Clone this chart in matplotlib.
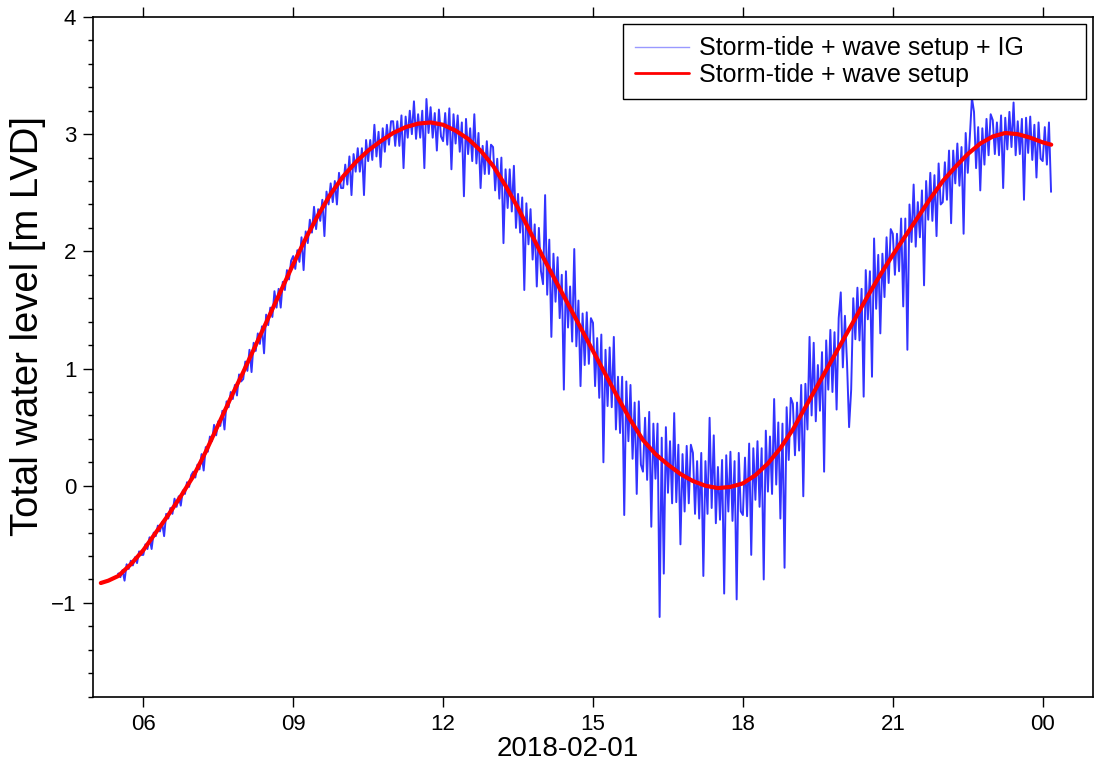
import numpy as np
import pandas as pd
import matplotlib
matplotlib.use("Agg")
import matplotlib.pyplot as plt
import matplotlib.dates as mdates
from matplotlib.ticker import MultipleLocator

plt.rcParams['font.family'] = ['Liberation Sans', 'DejaVu Sans']

# ---------------- data ----------------
day = "2018-02-01"

# smooth series: storm-tide + wave setup (hours after 00:00 of 2018-02-01, metres)
red_hours = [5.15, 5.3, 5.5, 5.75, 6.0, 6.25, 6.5, 6.75, 7.0, 7.25, 7.5, 7.75,
             8.0, 8.25, 8.5, 8.75, 9.0, 9.25, 9.5, 9.75, 10.0, 10.25, 10.5, 10.75,
             11.0, 11.25, 11.5, 11.75, 12.0, 12.25, 12.5, 12.75, 13.0, 13.25, 13.5,
             13.75, 14.0, 14.25, 14.5, 14.75, 15.0, 15.25, 15.5, 15.75, 16.0, 16.25,
             16.5, 16.75, 17.0, 17.25, 17.5, 17.75, 18.0, 18.25, 18.5, 18.75, 19.0,
             19.25, 19.5, 19.75, 20.0, 20.25, 20.5, 20.75, 21.0, 21.25, 21.5, 21.75,
             22.0, 22.25, 22.5, 22.75, 23.0, 23.25, 23.5, 23.75, 24.0, 24.17]
red_level = [-0.83, -0.81, -0.77, -0.67, -0.55, -0.40, -0.25, -0.09, 0.08, 0.29, 0.52, 0.75,
             0.97, 1.20, 1.43, 1.66, 1.89, 2.11, 2.31, 2.49, 2.64, 2.76, 2.86, 2.94,
             3.01, 3.06, 3.09, 3.10, 3.08, 3.03, 2.96, 2.86, 2.73, 2.56, 2.37,
             2.16, 1.95, 1.75, 1.55, 1.35, 1.15, 0.95, 0.75, 0.56, 0.39, 0.27,
             0.18, 0.10, 0.04, 0.00, -0.02, -0.01, 0.02, 0.09, 0.19, 0.32, 0.48,
             0.67, 0.86, 1.05, 1.24, 1.43, 1.62, 1.80, 1.97, 2.13, 2.29, 2.45,
             2.60, 2.72, 2.83, 2.92, 2.98, 3.01, 3.00, 2.97, 2.93, 2.91]

# noisy series: storm-tide + wave setup + IG, one value every 2.5 min from 05:30
blue_start = "2018-02-01 05:30"
blue_step = "150s"
blue_level = [
    # 05:30
    -0.75, -0.78, -0.72, -0.81, -0.67, -0.71, -0.64, -0.68, -0.61, -0.66, -0.56, -0.59,
    # 06
    -0.59, -0.50, -0.54, -0.44, -0.54, -0.40, -0.43, -0.34, -0.39, -0.31, -0.43, -0.24,
    -0.28, -0.19, -0.24, -0.11, -0.18, -0.09, -0.17, -0.04, -0.07, 0.03, -0.01, 0.09,
    # 07
    0.12, 0.07, 0.18, 0.14, 0.27, 0.13, 0.33, 0.29, 0.42, 0.38, 0.52, 0.43,
    0.55, 0.51, 0.64, 0.48, 0.72, 0.67, 0.80, 0.74, 0.86, 0.77, 0.95, 0.89,
    # 08
    0.91, 1.06, 0.98, 1.16, 0.97, 1.22, 1.15, 1.30, 1.21, 1.36, 1.13, 1.46,
    1.37, 1.52, 1.44, 1.66, 1.52, 1.68, 1.52, 1.74, 1.67, 1.84, 1.76, 1.92,
    # 09
    1.96, 1.85, 2.01, 1.91, 2.12, 1.84, 2.17, 2.07, 2.27, 2.16, 2.38, 2.19,
    2.36, 2.26, 2.44, 2.13, 2.51, 2.40, 2.58, 2.42, 2.60, 2.40, 2.67, 2.54,
    # 10
    2.54, 2.74, 2.57, 2.81, 2.48, 2.83, 2.68, 2.88, 2.68, 2.88, 2.48, 2.95,
    2.77, 2.95, 2.78, 3.08, 2.81, 3.02, 2.72, 3.05, 2.85, 3.08, 2.91, 3.11,
    # 11
    3.11, 2.90, 3.11, 2.90, 3.16, 2.71, 3.15, 2.97, 3.20, 3.00, 3.28, 2.96,
    3.17, 2.97, 3.20, 2.71, 3.30, 3.01, 3.23, 2.97, 3.18, 2.86, 3.21, 2.98,
    # 12
    2.94, 3.18, 2.91, 3.22, 2.70, 3.17, 2.92, 3.16, 2.85, 3.10, 2.47, 3.13,
    2.83, 3.05, 2.77, 3.17, 2.75, 3.01, 2.54, 2.90, 2.66, 2.94, 2.66, 2.91,
    # 13
    2.89, 2.52, 2.79, 2.45, 2.80, 2.07, 2.70, 2.37, 2.70, 2.34, 2.73, 2.20,
    2.49, 2.16, 2.46, 1.67, 2.41, 2.06, 2.36, 1.93, 2.23, 1.70, 2.20, 1.83,
    # 14
    1.72, 2.48, 1.63, 2.10, 1.27, 1.98, 1.57, 1.95, 1.43, 1.80, 0.82, 1.83,
    1.35, 1.70, 1.23, 2.02, 1.19, 1.58, 0.85, 1.47, 1.03, 1.48, 1.04, 1.43,
    # 15
    1.39, 0.85, 1.26, 0.75, 1.29, 0.20, 1.16, 0.68, 1.18, 0.67, 1.27, 0.48,
    0.93, 0.45, 0.93, -0.25, 0.89, 0.38, 0.86, 0.23, 0.71, -0.07, 0.72, 0.18,
    # 16
    0.12, 0.58, 0.05, 0.63, -0.35, 0.53, 0.06, 0.53, -1.12, 0.41, -0.75, 0.50,
    -0.06, 0.38, -0.15, 0.62, -0.14, 0.35, -0.50, 0.27, -0.22, 0.34, -0.15, 0.35,
    # 17
    0.28, -0.24, 0.21, -0.28, 0.28, -0.77, 0.21, -0.24, 0.58, -0.19, 0.43, -0.32,
    0.16, -0.29, 0.22, -0.92, 0.26, -0.22, 0.29, -0.30, 0.21, -0.97, 0.28, -0.22,
    # 18
    -0.25, 0.24, -0.26, 0.36, -0.59, 0.32, -0.12, 0.38, -0.18, 0.32, -0.80, 0.47,
    -0.05, 0.42, -0.07, 0.74, 0.01, 0.54, -0.28, 0.53, -0.70, 0.67, 0.22, 0.75,
    # 19
    0.70, 0.26, 0.71, 0.30, 0.86, -0.09, 0.87, 0.48, 1.27, 0.60, 1.22, 0.55,
    1.03, 0.64, 1.14, 0.12, 1.24, 0.82, 1.33, 0.80, 1.31, 0.65, 1.43, 1.65,
    # 20
    1.01, 1.45, 1.05, 0.50, 0.82, 1.60, 1.25, 1.69, 1.24, 1.68, 0.76, 1.84,
    1.42, 1.83, 0.93, 2.11, 1.51, 1.97, 1.30, 1.98, 1.61, 2.12, 1.73, 2.19,
    # 21
    2.15, 1.80, 2.15, 1.83, 2.28, 1.53, 2.28, 1.16, 2.40, 2.08, 2.57, 2.04,
    2.42, 2.12, 2.52, 1.71, 2.60, 2.27, 2.67, 2.26, 2.65, 2.13, 2.75, 2.40,
    # 22
    2.42, 2.76, 2.44, 2.86, 2.24, 2.86, 2.58, 2.92, 2.56, 2.89, 2.15, 3.01,
    2.67, 2.98, 3.31, 3.19, 2.71, 3.06, 2.52, 3.05, 2.74, 3.13, 2.82, 3.17,
    # 23
    3.12, 2.83, 3.10, 2.82, 3.16, 2.54, 3.14, 2.87, 3.19, 2.89, 3.27, 2.82,
    3.11, 2.83, 3.13, 2.44, 3.14, 2.84, 3.15, 2.78, 3.08, 2.63, 3.10, 2.79,
    # 00:00-00:10
    2.77, 3.06, 2.74, 3.10, 2.51]

label_ig = "Storm-tide + wave setup + IG"
label_setup = "Storm-tide + wave setup"
ylabel = "Total water level [m LVD]"
xlabel = day

# ---------------- build time axes ----------------
base = pd.Timestamp(day)
red_t = base + pd.to_timedelta(np.array(red_hours), unit="h")
blue_t = pd.date_range(blue_start, periods=len(blue_level), freq=blue_step)

# ---------------- figure ----------------
fig = plt.figure(figsize=(10.94, 7.64), dpi=100)
ax = fig.add_axes([0.0853, 0.0881, 0.9135, 0.8897])

ax.plot(blue_t, blue_level, color=(0, 0, 1), lw=1.4, alpha=0.8, label=label_ig)
ax.plot(red_t, red_level, color=(1, 0, 0), lw=3.0, solid_capstyle='round',
        solid_joinstyle='round', label=label_setup)

ax.set_xlim(base + pd.Timedelta(hours=5), base + pd.Timedelta(hours=25))
ax.set_ylim(-1.8, 4)

ax.xaxis.set_major_locator(mdates.HourLocator(byhour=range(0, 24, 3)))
ax.xaxis.set_major_formatter(mdates.DateFormatter('%H'))
ax.yaxis.set_major_locator(MultipleLocator(1))
ax.yaxis.set_minor_locator(MultipleLocator(0.2))

ax.tick_params(axis='both', which='major', direction='out', length=7.2, width=1.0,
               labelsize=16, pad=5)
ax.tick_params(axis='y', which='minor', direction='out', length=3.6, width=1.0)
ax.tick_params(axis='x', which='both', top=True, labeltop=False)
ax.tick_params(axis='y', which='both', right=False)
for s in ax.spines.values():
    s.set_linewidth(1.2)

ax.set_ylabel(ylabel, fontsize=27.5)
ax.yaxis.set_label_coords(-0.047, 0.545)
ax.set_xlabel(xlabel, fontsize=20)
ax.xaxis.set_label_coords(0.475, -0.058)

leg = ax.legend(loc='upper left', bbox_to_anchor=(0.5297, 0.8779, 0.4636, 0.1118),
                mode='expand', borderaxespad=0,
                fontsize=18, frameon=True, fancybox=False, edgecolor='black',
                framealpha=1, handlelength=2.15, handletextpad=0.4,
                labelspacing=0.1, borderpad=0.5)
leg.get_frame().set_linewidth(1.0)
lines = leg.get_lines()
lines[0].set_linewidth(1.0)
lines[0].set_alpha(0.4)
lines[1].set_linewidth(2.0)

fig.savefig("out.png", dpi=100)
